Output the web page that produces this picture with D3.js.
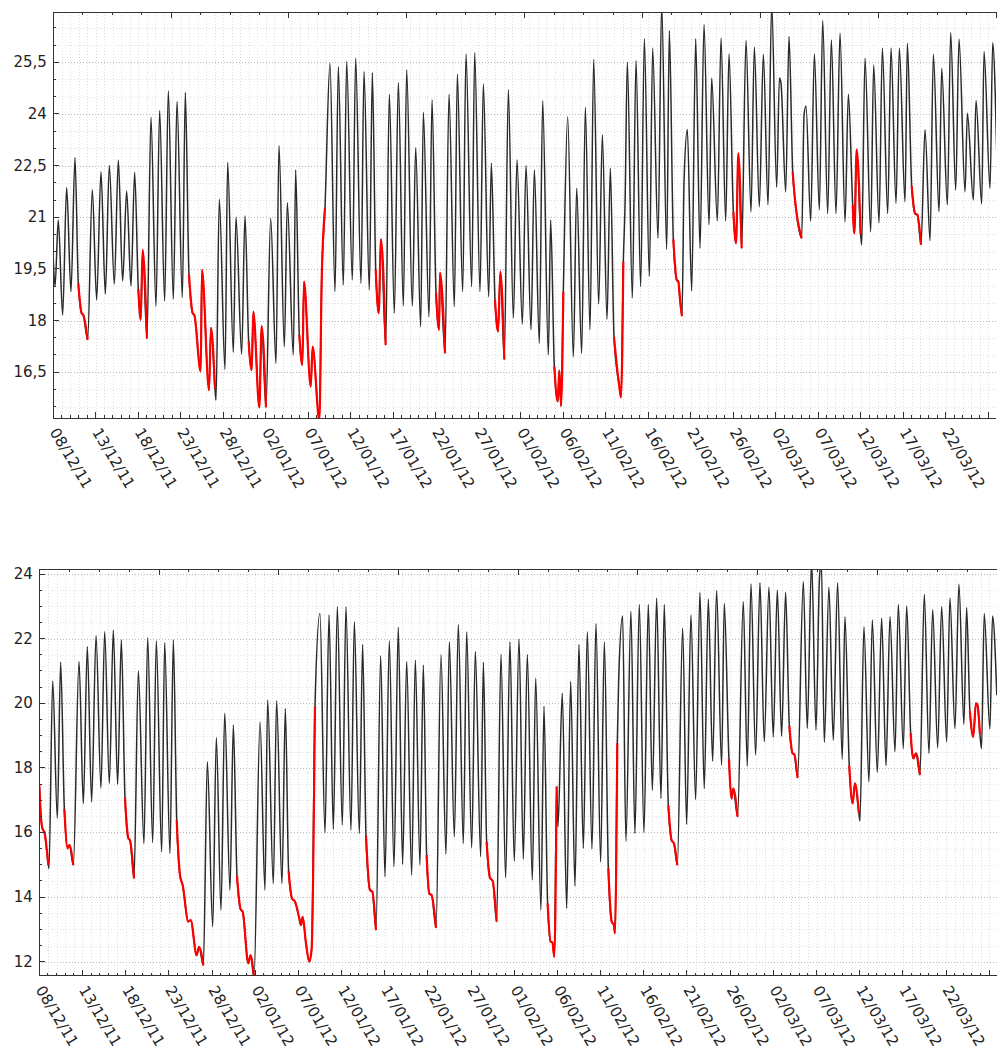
<!DOCTYPE html>
<html>
<head>
<meta charset="utf-8">
<script src="https://cdn.jsdelivr.net/npm/d3@7"></script>
<style>
  body { margin: 0; background: #fff; }
  text { font-family: "DejaVu Sans", sans-serif; fill: #222; }
</style>
</head>
<body>
<svg id="chart" width="997" height="1055"></svg>
<script>
// Day offsets are counted from 08/12/11 00:00.
const startLabel = "08/12/11";
const spanDays = 110.9;

// Dates labelled on the time axis (every five days)
const dateLabels = ["08/12/11","13/12/11","18/12/11","23/12/11","28/12/11","02/01/12",
  "07/01/12","12/01/12","17/01/12","22/01/12","27/01/12","01/02/12","06/02/12",
  "11/02/12","16/02/12","21/02/12","26/02/12","02/03/12","07/03/12","12/03/12",
  "17/03/12","22/03/12","27/03/12"];

const upperTicks = [16.5, 18, 19.5, 21, 22.5, 24, 25.5];
const lowerTicks = [12, 14, 16, 18, 20, 22, 24];

// Upper sensor: [day offset, temperature °C]
const upperTemps = [
[0.0,19.76],[0.2,18.99],[0.59,20.92],[1.1,18.16],[1.57,21.86],[2.08,18.84],[2.55,22.73],[2.94,19.08],[3.34,18.21],[3.53,18.16],
[4.04,17.44],[4.59,21.8],[5.1,18.6],[5.61,22.32],[6.12,18.77],[6.59,22.5],[7.18,19.06],[7.65,22.66],[8.16,19.15],[8.63,21.76],
[9.14,19.0],[9.57,22.31],[10.0,18.91],[10.28,18.02],[10.51,20.05],[11.02,17.48],[11.49,23.9],[12.08,18.42],[12.51,24.1],[13.1,18.57],
[13.53,24.67],[14.12,18.62],[14.55,24.36],[15.18,18.67],[15.53,24.62],[15.96,19.34],[16.4,18.21],[16.59,18.16],[17.34,16.52],[17.49,19.47],
[18.32,15.98],[18.55,17.79],[19.02,16.03],[19.14,15.69],[19.53,21.52],[20.2,16.58],[20.51,22.6],[21.18,17.08],[21.49,21.0],[22.16,17.03],
[22.55,21.04],[22.98,17.39],[23.34,16.56],[23.53,18.26],[24.24,15.48],[24.51,17.84],[25.02,15.48],[25.57,20.97],[26.2,16.76],[26.55,23.08],
[27.18,17.24],[27.53,21.42],[28.24,17.0],[28.51,22.37],[28.94,17.58],[29.3,16.71],[29.49,19.13],[30.28,16.08],[30.51,17.24],[31.3,15.1],
[31.57,19.13],[31.96,21.26],[32.55,25.47],[33.14,18.84],[33.53,25.37],[34.12,19.03],[34.51,25.52],[35.18,19.18],[35.57,25.62],[36.2,19.08],
[36.55,25.23],[37.18,18.89],[37.53,25.2],[37.93,19.47],[38.28,18.21],[38.55,20.36],[39.1,17.29],[39.53,24.57],[40.12,18.21],[40.59,24.91],
[41.18,18.42],[41.57,25.28],[42.24,18.42],[42.63,23.02],[43.22,17.82],[43.53,24.05],[44.2,18.11],[44.55,24.41],[45.02,18.81],[45.38,17.73],
[45.49,19.39],[46.08,17.05],[46.55,24.57],[47.18,18.4],[47.53,25.16],[48.16,18.84],[48.55,25.74],[49.22,18.98],[49.57,25.78],[50.2,18.84],
[50.59,24.87],[51.22,18.69],[51.53,22.57],[51.96,18.6],[52.32,17.68],[52.59,19.42],[53.06,16.87],[53.53,24.7],[54.12,18.07],[54.55,22.66],
[55.18,17.9],[55.61,22.5],[56.2,17.73],[56.59,22.37],[57.18,17.34],[57.57,24.38],[58.24,17.0],[58.51,20.92],[58.94,16.66],[59.34,15.65],
[59.53,16.55],[59.73,15.52],[60.0,18.84],[60.51,23.92],[61.18,16.95],[61.57,21.84],[62.16,17.05],[62.59,24.19],[63.14,17.73],[63.57,25.59],
[64.16,18.48],[64.59,23.39],[65.14,18.04],[65.53,22.42],[65.96,17.53],[66.59,16.08],[66.79,15.77],[67.06,19.71],[67.26,21.36],[67.53,25.5],
[68.12,18.65],[68.55,25.55],[69.1,18.98],[69.53,26.18],[70.12,19.28],[70.51,25.91],[71.14,20.39],[71.57,27.2],[72.16,20.07],[72.47,26.42],
[72.94,20.36],[73.34,19.18],[73.53,19.13],[73.73,18.6],[73.96,18.13],[74.2,22.03],[74.59,23.55],[75.1,18.86],[75.57,26.18],[76.08,20.1],
[76.55,26.6],[77.14,20.78],[77.45,25.04],[78.12,20.89],[78.55,26.2],[79.1,20.89],[79.49,25.74],[80.0,21.16],[80.32,20.24],[80.59,22.86],
[80.98,20.1],[81.49,26.13],[82.08,21.16],[82.47,25.94],[83.06,21.31],[83.53,25.73],[84.08,21.36],[84.51,27.2],[85.1,21.87],[85.42,25.04],
[85.61,24.89],[86.16,21.74],[86.55,26.25],[86.98,22.32],[87.26,21.5],[88.04,20.39],[88.32,23.97],[88.55,24.23],[89.1,20.89],[89.53,25.74],
[90.12,21.21],[90.51,26.71],[91.1,21.11],[91.53,26.15],[92.08,21.11],[92.55,26.34],[93.14,20.87],[93.53,24.57],[94.04,21.36],[94.24,20.53],
[94.51,22.97],[94.98,20.49],[95.1,20.2],[95.49,25.62],[96.16,20.58],[96.51,25.42],[97.14,20.84],[97.53,25.91],[98.16,21.11],[98.55,25.91],
[99.14,21.41],[99.53,25.91],[100.2,21.45],[100.47,26.05],[100.98,21.91],[101.38,21.11],[101.65,21.07],[102.08,20.2],[102.55,23.55],[103.14,20.32],
[103.53,25.73],[104.2,21.16],[104.51,25.33],[105.18,21.36],[105.57,26.36],[106.16,21.79],[106.55,26.17],[107.26,21.74],[107.53,24.02],[108.24,21.5],
[108.55,24.39],[109.22,21.39],[109.49,25.81],[110.2,21.84],[110.51,26.07],[110.98,22.95]
];
// Periods drawn in red on the upper sensor: [start day, end day]
const upperOff = [[2.94,4.04],[10.0,11.02],[15.96,19.02],[22.98,25.02],[28.94,31.96],[37.93,39.1],
  [45.02,46.08],[51.96,53.06],[58.94,60.0],[65.96,67.06],[72.94,73.96],[80.0,80.98],[86.98,88.04],
  [94.04,94.98],[100.98,102.08]];

// Lower sensor: [day offset, temperature °C]
const lowerTemps = [
[0,17.47],[0.2,16.44],[0.39,16.1],[0.58,16.02],[1.05,14.99],[1.12,14.89],[1.55,20.69],[2.09,16.44],[2.47,21.27],[2.9,16.72],
[3.29,15.51],[3.48,15.61],[3.94,14.99],[4.6,21.29],[5.1,16.9],[5.56,21.75],[6.06,16.95],[6.57,22.09],[7.14,17.38],[7.57,22.21],
[8.11,17.52],[8.57,22.26],[9.07,17.49],[9.5,21.96],[9.92,17.08],[10.31,15.82],[10.5,15.76],[10.97,14.58],[11.47,21.0],[12.12,15.66],
[12.55,22.03],[13.13,15.69],[13.55,21.93],[14.17,15.4],[14.52,21.88],[15.13,15.35],[15.52,21.96],[15.91,16.38],[16.29,14.68],[16.6,14.37],
[17.26,13.24],[17.53,13.29],[18.22,12.2],[18.49,12.46],[19.0,11.89],[19.46,18.19],[20.08,13.08],[20.5,18.93],[21.04,13.6],[21.47,19.69],
[22.08,14.22],[22.47,19.33],[22.89,14.66],[23.32,13.62],[23.55,13.55],[24.2,11.95],[24.47,12.2],[24.86,11.5],[25.56,19.43],[26.13,14.22],
[26.44,20.1],[27.1,14.42],[27.48,20.08],[28.1,14.42],[28.49,19.84],[28.87,14.8],[29.26,13.96],[29.61,13.86],[30.11,13.34],[30.3,13.13],
[30.5,13.39],[30.88,12.57],[31.27,12.0],[31.54,12.41],[31.92,19.89],[32.5,22.78],[33.08,15.99],[33.55,22.73],[34.05,16.1],[34.51,22.99],
[35.09,16.23],[35.51,22.99],[36.09,16.07],[36.48,22.52],[37.06,15.97],[37.44,21.82],[37.83,15.9],[38.29,14.22],[38.56,14.17],[38.99,12.98],
[39.53,21.47],[40.03,14.63],[40.53,21.93],[41.07,14.94],[41.57,22.35],[42.07,15.01],[42.54,21.29],[43.12,14.68],[43.54,21.34],[44.08,14.99],
[44.47,21.18],[44.85,15.3],[45.16,14.11],[45.43,14.06],[45.94,13.05],[46.51,21.51],[47.09,15.33],[47.48,21.9],[48.06,15.87],[48.52,22.44],
[49.1,15.66],[49.49,22.21],[50.07,15.53],[50.49,21.6],[51.11,15.25],[51.42,21.27],[51.8,15.71],[52.19,14.6],[52.5,14.5],[52.96,13.24],
[53.46,21.52],[54.0,14.6],[54.5,21.9],[55.0,15.11],[55.55,21.99],[56.05,15.18],[56.51,21.51],[57.09,14.53],[57.48,20.77],[58.09,13.6],
[58.44,19.91],[58.86,13.8],[59.21,12.62],[59.41,12.6],[59.64,12.15],[59.91,17.42],[60.06,16.18],[60.56,20.31],[61.07,13.65],[61.53,20.67],
[62.03,14.34],[62.49,21.82],[63.0,15.51],[63.46,22.21],[64.0,15.49],[64.46,22.47],[65.0,15.09],[65.43,21.9],[65.89,14.89],[66.28,13.24],
[66.54,13.13],[66.66,12.88],[66.93,18.76],[67.09,20.72],[67.55,22.7],[67.93,15.73],[68.51,22.85],[68.97,15.97],[69.48,23.06],[70.02,16.0],
[70.52,23.06],[70.99,17.31],[71.49,23.25],[71.99,17.05],[72.37,23.06],[72.84,16.84],[73.22,15.76],[73.49,15.66],[73.88,14.99],[74.5,22.32],
[74.96,16.25],[75.46,22.73],[76.0,17.02],[76.5,23.43],[77.0,17.36],[77.47,23.22],[77.97,18.21],[78.43,23.48],[79.01,18.09],[79.32,23.09],
[79.86,18.27],[80.17,17.05],[80.36,17.36],[80.86,16.49],[81.52,23.14],[81.98,18.06],[82.41,23.69],[82.95,18.4],[83.45,23.73],[83.95,18.81],
[84.49,23.59],[84.99,18.96],[85.46,23.5],[85.96,18.98],[86.42,23.43],[86.85,19.3],[87.23,18.45],[87.42,18.42],[87.81,17.69],[88.47,23.76],
[88.93,19.22],[89.43,24.4],[89.94,19.17],[90.33,23.81],[90.56,24.4],[90.9,18.79],[91.44,23.59],[91.94,18.86],[92.44,23.73],[92.98,18.27],
[93.29,22.68],[93.79,18.07],[94.18,16.9],[94.45,17.52],[94.91,16.59],[95.03,16.36],[95.49,22.37],[96.07,17.57],[96.46,22.58],[97.04,17.86],
[97.54,22.63],[98.05,18.07],[98.51,22.68],[99.09,18.5],[99.47,23.06],[100.05,18.6],[100.44,23.01],[100.9,19.07],[101.21,18.29],[101.52,18.45],
[101.98,17.78],[102.48,23.37],[103.02,18.45],[103.45,22.89],[104.03,18.62],[104.49,22.99],[105.07,18.81],[105.45,23.25],[106.03,19.22],[106.49,23.68],
[107.07,19.35],[107.38,22.96],[107.76,19.76],[108.15,18.96],[108.46,20.0],[108.65,19.94],[108.92,19.05],[109.11,18.6],[109.42,22.78],[110.08,19.2],
[110.38,22.7],[110.88,20.25]
];
// Periods drawn in red on the lower sensor: [start day, end day]
const lowerOff = [[0,1.05],[2.9,3.94],[9.92,10.97],[15.91,19.0],[22.89,24.86],[28.87,31.92],[37.83,38.99],
  [44.85,45.94],[51.8,52.96],[58.86,59.91],[65.89,66.93],[72.84,73.88],[79.86,80.86],[86.85,87.81],
  [93.79,94.91],[100.9,101.98],[107.76,108.92]];

const W = 997;
const parseDay = d3.utcParse("%d/%m/%y");
const t0 = parseDay(startLabel);
const toDate = d => new Date(t0.getTime() + d * 864e5);
const commaFmt = v => String(v).replace(".", ",");

const svg = d3.select("#chart");

const panels = [
  { id: "upper", data: upperTemps, off: upperOff, ticks: upperTicks,
    left: 53.3, right: 996, top: 12, bottom: 418, yDomain: [15.17, 26.96] },
  { id: "lower", data: lowerTemps, off: lowerOff, ticks: lowerTicks,
    left: 39.3, right: 997, top: 569, bottom: 975.7, yDomain: [11.567, 24.155] }
];

panels.forEach(p => {
  const x = d3.scaleUtc().domain([t0, toDate(spanDays)]).range([p.left, p.right]);
  const y = d3.scaleLinear().domain(p.yDomain).range([p.bottom, p.top]);
  const g = svg.append("g").attr("class", p.id);

  // clip region for the data
  svg.append("clipPath").attr("id", "clip-" + p.id)
    .append("rect").attr("x", p.left).attr("y", p.top)
    .attr("width", p.right - p.left).attr("height", p.bottom - p.top);

  // grid: daily verticals, half-degree horizontals
  const days = d3.utcDay.range(t0, toDate(spanDays));
  const halfSteps = d3.range(Math.ceil(p.yDomain[0] * 2) / 2, p.yDomain[1], 0.5);
  const grid = g.append("g").attr("shape-rendering", "crispEdges");
  grid.selectAll("line.v").data(days).join("line")
    .attr("x1", d => Math.round(x(d)) + 0.5).attr("x2", d => Math.round(x(d)) + 0.5)
    .attr("y1", p.top).attr("y2", p.bottom)
    .attr("stroke", "#dedede").attr("stroke-dasharray", "1,2");
  grid.selectAll("line.h").data(halfSteps).join("line")
    .attr("x1", p.left).attr("x2", p.right)
    .attr("y1", d => Math.round(y(d)) + 0.5).attr("y2", d => Math.round(y(d)) + 0.5)
    .attr("stroke", d => p.ticks.includes(d) ? "#b8b8b8" : "#e2e2e2")
    .attr("stroke-dasharray", "1,2");

  // temperature trace
  const line = d3.line()
    .x(d => x(toDate(d[0]))).y(d => y(d[1]))
    .curve(d3.curveMonotoneX);
  const plot = g.append("g").attr("clip-path", `url(#clip-${p.id})`);
  plot.append("path").datum(p.data)
    .attr("d", line).attr("fill", "none")
    .attr("stroke", "#2a2a2a").attr("stroke-width", 1.5).attr("stroke-linejoin", "round");
  plot.selectAll("path.off").data(p.off).join("path")
    .attr("class", "off")
    .attr("d", w => line(p.data.filter(d => d[0] >= w[0] - 1e-6 && d[0] <= w[1] + 1e-6)))
    .attr("fill", "none").attr("stroke", "#ff0000").attr("stroke-width", 2.2)
    .attr("stroke-linejoin", "round");

  // frame lines
  const frame = g.append("g").attr("stroke", "#333").attr("shape-rendering", "crispEdges");
  frame.append("line").attr("x1", p.left).attr("x2", p.right).attr("y1", p.top).attr("y2", p.top);
  frame.append("line").attr("x1", p.left).attr("x2", p.right).attr("y1", p.bottom).attr("y2", p.bottom);
  frame.append("line").attr("x1", p.left).attr("x2", p.left).attr("y1", p.top).attr("y2", p.bottom);

  // top ticks: 32 equal divisions, every fourth longer
  const topTicks = d3.range(0, 33).map(i => ({ i, px: p.left + i * (p.right - p.left) / 32 }));
  frame.selectAll("line.tt").data(topTicks).join("line")
    .attr("x1", d => d.px).attr("x2", d => d.px)
    .attr("y1", p.top).attr("y2", d => p.top + (d.i % 4 === 0 ? 6 : 3));

  // left ticks (inside), minor every half degree
  frame.selectAll("line.yt").data(halfSteps).join("line")
    .attr("x1", p.left).attr("x2", d => p.left + (p.ticks.includes(d) ? 6 : 3))
    .attr("y1", d => y(d)).attr("y2", d => y(d));

  // bottom ticks (inside), minor every day
  const majorDates = dateLabels.map(parseDay);
  frame.selectAll("line.xt").data(days).join("line")
    .attr("x1", d => x(d)).attr("x2", d => x(d))
    .attr("y1", p.bottom).attr("y2", d => p.bottom - (majorDates.some(m => +m === +d) ? 6 : 3));

  // y labels
  g.append("g").selectAll("text").data(p.ticks).join("text")
    .attr("x", p.left - 6.5).attr("y", d => y(d))
    .attr("text-anchor", "end").attr("dominant-baseline", "central")
    .attr("font-size", 15).text(commaFmt);

  // date labels, rotated
  g.append("g").selectAll("text")
    .data(dateLabels.filter(s => x(parseDay(s)) + 40 < W))
    .join("text")
    .attr("transform", s => `translate(${x(parseDay(s)) - 4},${p.bottom + 14}) rotate(59)`)
    .attr("text-anchor", "start")
    .attr("font-size", 15).text(s => s);
});
</script>
</body>
</html>
